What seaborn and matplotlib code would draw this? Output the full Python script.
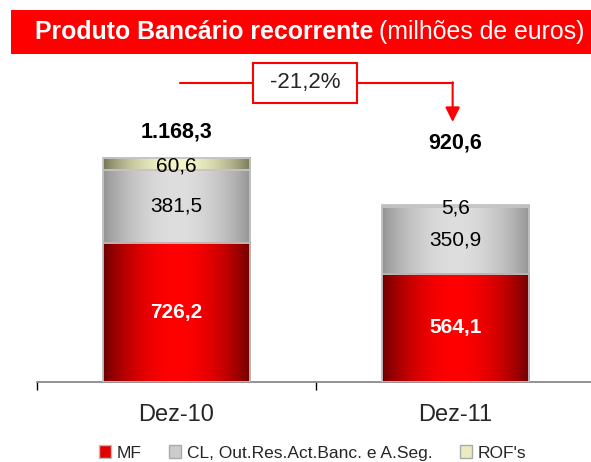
import numpy as np
import pandas as pd
import matplotlib.pyplot as plt
import seaborn as sns
from matplotlib.patches import Rectangle, Patch

# Data (milhões de euros)
periods = ['Dez-10', 'Dez-11']
mf = [726.2, 564.1]
cl = [381.5, 350.9]
rof = [60.6, 5.6]
totals = [1168.3, 920.6]
change_label = '-21,2%'
series_names = ['MF', 'CL, Out.Res.Act.Banc. e A.Seg.', "ROF's"]


def pt_fmt(v):
    # portuguese number format: 1.168,3
    return f'{v:,.1f}'.replace(',', 'X').replace('.', ',').replace('X', '.')


def gradient(edge, center, n=256):
    u = np.linspace(0, 1, n)
    t = np.sin(np.pi * u) ** 0.8
    edge = np.array(edge) / 255.0
    center = np.array(center) / 255.0
    return (edge + (center - edge) * t[:, None])[None, :, :]


sns.set_theme(style='white')
plt.rcParams['font.family'] = ['Liberation Sans', 'DejaVu Sans']

fig = plt.figure(figsize=(5.91, 4.62), dpi=100)
W, H = 591, 462
ax = fig.add_axes([37 / W, 80 / H, 554 / W, 317 / H])

df = pd.DataFrame({
    'period': periods,
    'top': totals,
    'mid': np.array(mf) + np.array(cl),
    'low': mf,
})

# stacked bars drawn as overlapping cumulative bars, each with a horizontal gradient
layers = [
    ('top', (115, 115, 85), (245, 245, 200)),
    ('mid', (145, 145, 145), (222, 222, 222)),
    ('low', (105, 0, 0), (255, 0, 0)),
]
for i, (col, edge, center) in enumerate(layers):
    n_before = len(ax.patches)
    sns.barplot(data=df, x='period', y=col, width=0.527, color='white',
                edgecolor='#c4c4c4', linewidth=1.3, errorbar=None, ax=ax)
    z = 2 + i
    grad = gradient(edge, center)
    for p in ax.patches[n_before:]:
        x0, y0, w, h = p.get_x(), p.get_y(), p.get_width(), p.get_height()
        ax.imshow(grad, extent=[x0, x0 + w, y0, y0 + h], aspect='auto',
                  interpolation='bicubic', zorder=z)
        p.set_facecolor('none')
        p.set_zorder(z + 0.5)

ax.set_xlim(-0.5, 1.486)
ax.set_ylim(0, 1653)

# segment labels
for i in range(len(periods)):
    ax.text(i, mf[i] / 2, pt_fmt(mf[i]), ha='center', va='center',
            color='white', fontweight='bold', fontsize=15, zorder=10)
    ax.text(i, mf[i] + cl[i] / 2, pt_fmt(cl[i]), ha='center', va='center',
            color='black', fontsize=15, zorder=10)
    ax.text(i, totals[i] - rof[i] / 2 - 12, pt_fmt(rof[i]), ha='center', va='center',
            color='black', fontsize=15, zorder=10)

# totals above bars
total_y = [1305, 1247]
for i in range(len(periods)):
    ax.text(i, total_y[i], pt_fmt(totals[i]), ha='center', va='center',
            color='black', fontweight='bold', fontsize=15.5, zorder=10)

# change arrow with boxed label
red = '#ff0000'
ax.plot([0.012, 0.274], [1560, 1560], color=red, lw=1.5, clip_on=False, zorder=10)
ax.plot([0.647, 0.99], [1560, 1560], color=red, lw=1.5, clip_on=False, zorder=10)
ax.annotate('', xy=(0.99, 1356), xytext=(0.99, 1563),
            arrowprops=dict(arrowstyle='-|>', color=red, lw=1.5,
                            mutation_scale=22, shrinkA=0, shrinkB=0),
            annotation_clip=False, zorder=10)
ax.add_patch(Rectangle((0.274, 1455), 0.373, 209, facecolor='white',
                       edgecolor=red, lw=1.5, clip_on=False, zorder=10))
ax.text(0.46, 1560, change_label, ha='center', va='center', fontsize=16, zorder=11)

# axes styling
for s in ['top', 'left', 'right']:
    ax.spines[s].set_visible(False)
ax.spines['bottom'].set_color('#808080')
ax.spines['bottom'].set_linewidth(1.2)
ax.set_yticks([])
ax.set_xlabel('')
ax.set_ylabel('')
ax.set_xticks([0, 1])
ax.set_xticklabels(periods, fontsize=17)
ax.set_xticks([-0.5, 0.5], minor=True)
ax.tick_params(axis='x', which='major', length=0, pad=16)
ax.tick_params(axis='x', which='minor', length=6, width=1, color='black',
               direction='out', bottom=True)

# title banner
fig.patches.append(Rectangle((11 / W, 1 - 54 / H), 1 - 11 / W, 44 / H,
                             transform=fig.transFigure, facecolor=red,
                             edgecolor='none', zorder=0))
t1 = fig.text(35 / W, 1 - 32 / H, 'Produto Bancário recorrente', color='white',
              fontweight='bold', fontsize=17.9, va='center', ha='left')
fig.canvas.draw()
bb = t1.get_window_extent()
fig.text(bb.x1 / W + 6 / W, 1 - 32 / H, '(milhões de euros)', color='white',
         fontsize=17.9, va='center', ha='left')

# legend
handles = [
    Patch(facecolor='#e00000', edgecolor='#bbbbbb', label=series_names[0]),
    Patch(facecolor='#cccccc', edgecolor='#aaaaaa', label=series_names[1]),
    Patch(facecolor='#ecebc0', edgecolor='#aaaaaa', label=series_names[2]),
]
fig.legend(handles=handles, loc='center', bbox_to_anchor=(0.529, 1 - 453 / H),
           ncol=3, frameon=False, fontsize=12.5, handlelength=0.7,
           handleheight=0.7, handletextpad=0.3, columnspacing=1.6)

fig.savefig('out.png', dpi=100)
